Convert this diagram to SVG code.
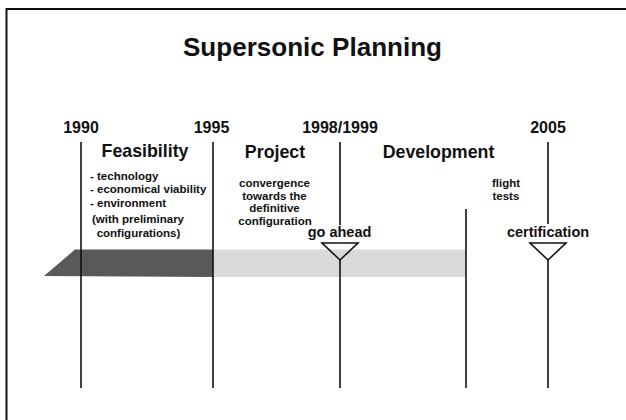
<svg xmlns="http://www.w3.org/2000/svg" width="626" height="420" viewBox="0 0 626 420">
<style>
text{font-family:"Liberation Sans",Arial,Helvetica,sans-serif;font-weight:bold;fill:#111}
.title{font-size:26px}
.year{font-size:16px}
.phase{font-size:17.8px}
.small{font-size:11.5px}
.mile{font-size:14.5px}
.ln{stroke:#111;stroke-width:1.6;fill:none}
.frame{stroke:#111;stroke-width:2;fill:none}
.tri{stroke:#111;stroke-width:1.6;fill:none;stroke-linejoin:miter}
</style>
<rect width="626" height="420" fill="#fff"/>
<g id="frame"><path class="frame" d="M6.5 420 V9 H626"/></g>
<g id="title"><text class="title" x="312.5" y="56" text-anchor="middle" textLength="259" lengthAdjust="spacingAndGlyphs">Supersonic Planning</text></g>
<g id="bars">
<polygon points="213,277 213,249.5 75,249.5 44,276" fill="#595959"/>
<rect x="213" y="249.5" width="253" height="27.5" fill="#d9d9d9"/>
</g>
<g id="connectors">
<line class="ln" x1="81" y1="142" x2="81" y2="388"/>
<line class="ln" x1="213" y1="142" x2="213" y2="388"/>
<line class="ln" x1="340" y1="142" x2="340" y2="225"/>
<line class="ln" x1="340" y1="260" x2="340" y2="388"/>
<line class="ln" x1="466" y1="209" x2="466" y2="388"/>
<line class="ln" x1="548" y1="142" x2="548" y2="224"/>
<line class="ln" x1="548" y1="260" x2="548" y2="388"/>
</g>
<g id="years">
<text class="year" x="81" y="133" text-anchor="middle">1990</text>
<text class="year" x="211.5" y="133" text-anchor="middle">1995</text>
<text class="year" x="340" y="133" text-anchor="middle">1998/1999</text>
<text class="year" x="548" y="133" text-anchor="middle">2005</text>
</g>
<g id="feasibility">
<text class="phase" x="145" y="157" text-anchor="middle">Feasibility</text>
<text class="small" x="90" y="180">- technology</text>
<text class="small" x="90" y="193">- economical viability</text>
<text class="small" x="90" y="207">- environment</text>
<text class="small" x="138" y="223" text-anchor="middle">(with preliminary</text>
<text class="small" x="138.5" y="237" text-anchor="middle">configurations)</text>
</g>
<g id="project">
<text class="phase" x="275" y="158" text-anchor="middle">Project</text>
<text class="small" x="274.5" y="187" text-anchor="middle">convergence</text>
<text class="small" x="274.5" y="199.5" text-anchor="middle">towards the</text>
<text class="small" x="274.5" y="212" text-anchor="middle">definitive</text>
<text class="small" x="275" y="224.5" text-anchor="middle">configuration</text>
</g>
<g id="development">
<text class="phase" x="438.5" y="158" text-anchor="middle">Development</text>
<text class="small" x="492" y="187">flight</text>
<text class="small" x="492.5" y="199.5">tests</text>
</g>
<g id="go-ahead">
<text class="mile" x="339.5" y="237" text-anchor="middle">go ahead</text>
<polygon class="tri" points="322,243 358,243 340,260"/>
</g>
<g id="certification">
<text class="mile" x="548" y="237" text-anchor="middle">certification</text>
<polygon class="tri" points="530,243 566,243 548,260"/>
</g>
</svg>
